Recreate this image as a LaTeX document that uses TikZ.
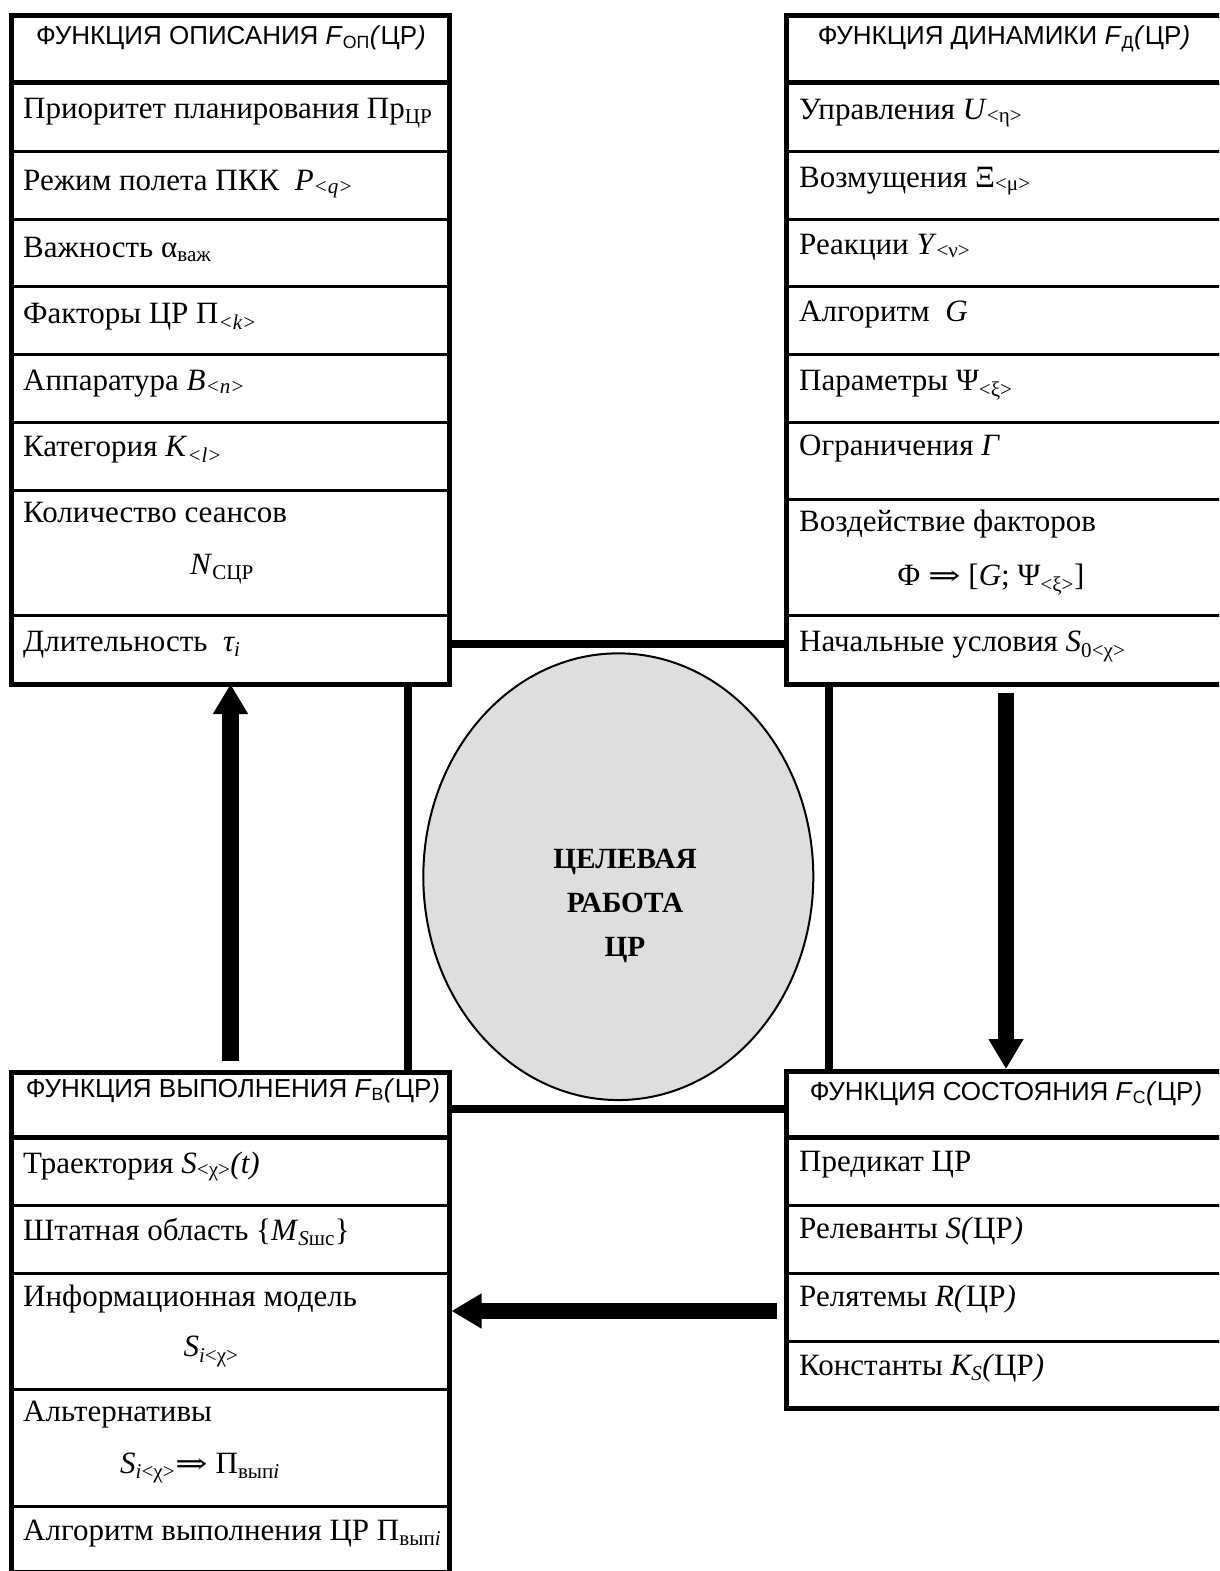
\documentclass[tikz,border=0pt]{standalone}
\usepackage{fontspec}
\setmainfont{Liberation Serif}
\newfontfamily\hdrfamily{Liberation Sans}
\newfontfamily\arrfamily{DejaVu Serif}
\usetikzlibrary{arrows.meta,shapes.geometric}
\def\defaultscriptratio{.68}
\newcommand\hdrfont{\hdrfamily\fontsize{26}{30}\selectfont}
\newcommand\txtfont{\fontsize{31}{36}\selectfont}
\newcommand\ellfont{\bfseries\fontsize{29.3}{44}\selectfont}
\newcommand\Rarr{{\arrfamily\fontsize{26}{30}\selectfont\scalebox{1.5}[1.1]{⇒}}}
\definecolor{ellfill}{RGB}{222,222,222}
\tikzset{
  fbox/.style={draw, line width=5pt, rectangle, outer sep=0pt, inner sep=0pt},
  hdrline/.style={line width=5pt},
  rowline/.style={line width=3pt},
  conn/.style={line width=8pt},
  bigarrow/.style={line width=16pt, -{Triangle[length=30pt,width=33pt]}},
  hdr/.style={font=\hdrfont, anchor=base, inner sep=0pt},
  txt/.style={font=\txtfont, anchor=base west, inner sep=0pt},
  ctxt/.style={font=\txtfont, anchor=base, inner sep=0pt},
}
\begin{document}
\begin{tikzpicture}[x=1pt,y=-1pt]
\useasboundingbox (0,0) rectangle (1219,1571);
\fill[white] (0,0) rectangle (1219,1571);
\clip (0,0) rectangle (1219,1571);

% ---------------- boxes ----------------
\node[fbox, minimum width=438.5, minimum height=668] (A) at (230.25,350) {};
\node[fbox, minimum width=436, minimum height=668] (B) at (1004,350) {};
\node[fbox, minimum width=438.5, minimum height=499.5] (C) at (230.25,1322.25) {};
\node[fbox, minimum width=436, minimum height=337.7] (D) at (1004,1239.85) {};

% row separators
\draw[hdrline] (A.west |- 0,82.5) -- (A.east |- 0,82.5);
\foreach \y in {151.5,219,286.5,354.5,422.5,490,615.3}
  \draw[rowline] (A.west |- 0,\y) -- (A.east |- 0,\y);
\draw[hdrline] (B.west |- 0,82.5) -- (B.east |- 0,82.5);
\foreach \y in {151.5,219,286.5,354.5,422.5,499,615.3}
  \draw[rowline] (B.west |- 0,\y) -- (B.east |- 0,\y);
\draw[hdrline] (C.west |- 0,1137.5) -- (C.east |- 0,1137.5);
\foreach \y in {1205,1273,1389.5,1506}
  \draw[rowline] (C.west |- 0,\y) -- (C.east |- 0,\y);
\draw[hdrline] (D.west |- 0,1137.5) -- (D.east |- 0,1137.5);
\foreach \y in {1205.5,1273,1341.5}
  \draw[rowline] (D.west |- 0,\y) -- (D.east |- 0,\y);

% ---------------- ellipse ----------------
\node[draw, ellipse, line width=2pt, fill=ellfill, minimum width=390, minimum height=446.7, inner sep=0pt] (E) at (618.3,876.7) {};
\node[font=\ellfont, align=center, inner sep=0pt, anchor=base] (Et) at (625,956.7) {ЦЕЛЕВАЯ\\РАБОТА\\ЦР};

% ---------------- connectors ----------------
\coordinate (yTop) at (0,644);
\coordinate (yBot) at (0,1109);
\coordinate (xL) at (407.5,0);
\coordinate (xR) at (829,0);
\draw[conn] (A.east |- yTop) -- (B.west |- yTop);
\draw[conn] (C.east |- yBot) -- (D.west |- yBot);
\draw[conn] (xL |- A.south) -- (xL |- C.north);
\draw[conn] (xR |- B.south) -- (xR |- D.north);

\coordinate (upS) at (230.5,1061);
\coordinate (dnS) at (1006,693);
\coordinate (lfS) at (777,1311);
\draw[bigarrow, line width=17pt] (upS) -- (upS |- A.south);
\draw[bigarrow, shorten >=2pt] (dnS) -- (dnS |- D.north);
\draw[bigarrow, shorten >=2pt] (lfS) -- (lfS -| C.east);

% ---------------- texts: A ----------------
\node[hdr] (a0) at (231,45) {ФУНКЦИЯ ОПИСАНИЯ \textit{F}\textsubscript{ОП}\textit{(}ЦР\textit{)}};
\node[txt] (a1) at (23,118) {Приоритет планирования Пр\textsubscript{ЦР}};
\node[txt] (a2) at (23,190) {Режим полета ПКК\ \ \textit{P}\textsubscript{\textit{<q>}}};
\node[txt] (a3) at (23,257.5) {Важность α\textsubscript{важ}};
\node[txt] (a4) at (23,323) {Факторы ЦР Π\textsubscript{\textit{<k>}}};
\node[txt] (a5) at (23,390) {Аппаратура \textit{B}\textsubscript{\textit{<n>}}};
\node[txt] (a6) at (23,456) {Категория \textit{K}\textsubscript{\textit{<l>}}};
\node[txt] (a7) at (23,522) {Количество сеансов};
\node[ctxt] (a7b) at (222,574) {\textit{N}\textsubscript{СЦР}};
\node[txt] (a8) at (23,651) {Длительность\ \ \textit{τ\textsubscript{i}}};

% ---------------- texts: B ----------------
\node[hdr] (b0) at (1004,45) {ФУНКЦИЯ ДИНАМИКИ \textit{F}\textsubscript{Д}\textit{(}ЦР\textit{)}};
\node[txt] (b1) at (799,119) {Управления \textit{U}\textsubscript{<η>}};
\node[txt] (b2) at (799,187) {Возмущения Ξ\textsubscript{<μ>}};
\node[txt] (b3) at (799,254) {Реакции \textit{Y}\textsubscript{<ν>}};
\node[txt] (b4) at (799,321.5) {Алгоритм\ \ \textit{G}};
\node[txt] (b5) at (799,390) {Параметры Ψ\textsubscript{<ξ>}};
\node[txt] (b6) at (799,455.7) {Ограничения \textit{Γ}};
\node[txt] (b7) at (799,531.7) {Воздействие факторов};
\node[ctxt] (b7b) at (991,585) {Φ \Rarr\ [\textit{G}; Ψ\textsubscript{<ξ>}]};
\node[txt] (b8) at (799,651.7) {Начальные условия \textit{S}\textsubscript{0<χ>}};

% ---------------- texts: C ----------------
\node[hdr] (c0) at (233,1097) {ФУНКЦИЯ ВЫПОЛНЕНИЯ \textit{F}\textsubscript{В}\textit{(}ЦР\textit{)}};
\node[txt] (c1) at (23,1173) {Траектория \textit{S}\textsubscript{<χ>}\textit{(t)}};
\node[txt] (c2) at (23,1240) {Штатная область \{\textit{M}\textsubscript{\textit{S}шс}\}};
\node[txt] (c3) at (23,1306.7) {Информационная модель};
\node[ctxt] (c3b) at (211,1356.7) {\textit{S}\textsubscript{\textit{i}<χ>}};
\node[txt] (c4) at (23,1421.7) {Альтернативы};
\node[ctxt] (c4b) at (200,1473.3) {\textit{S}\textsubscript{\textit{i}<χ>}\Rarr\ Π\textsubscript{вып\textit{i}}};
\node[txt] (c5) at (23,1540) {Алгоритм выполнения ЦР Π\textsubscript{вып\textit{i}}};

% ---------------- texts: D ----------------
\node[hdr] (d0) at (1006,1100) {ФУНКЦИЯ СОСТОЯНИЯ \textit{F}\textsubscript{С}\textit{(}ЦР\textit{)}};
\node[txt] (d1) at (799,1171.7) {Предикат ЦР};
\node[txt] (d2) at (799,1238.3) {Релеванты \textit{S(}ЦР\textit{)}};
\node[txt] (d3) at (799,1306.7) {Релятемы \textit{R(}ЦР\textit{)}};
\node[txt] (d4) at (799,1375) {Константы \textit{K\textsubscript{S}(}ЦР\textit{)}};
\end{tikzpicture}
\end{document}
